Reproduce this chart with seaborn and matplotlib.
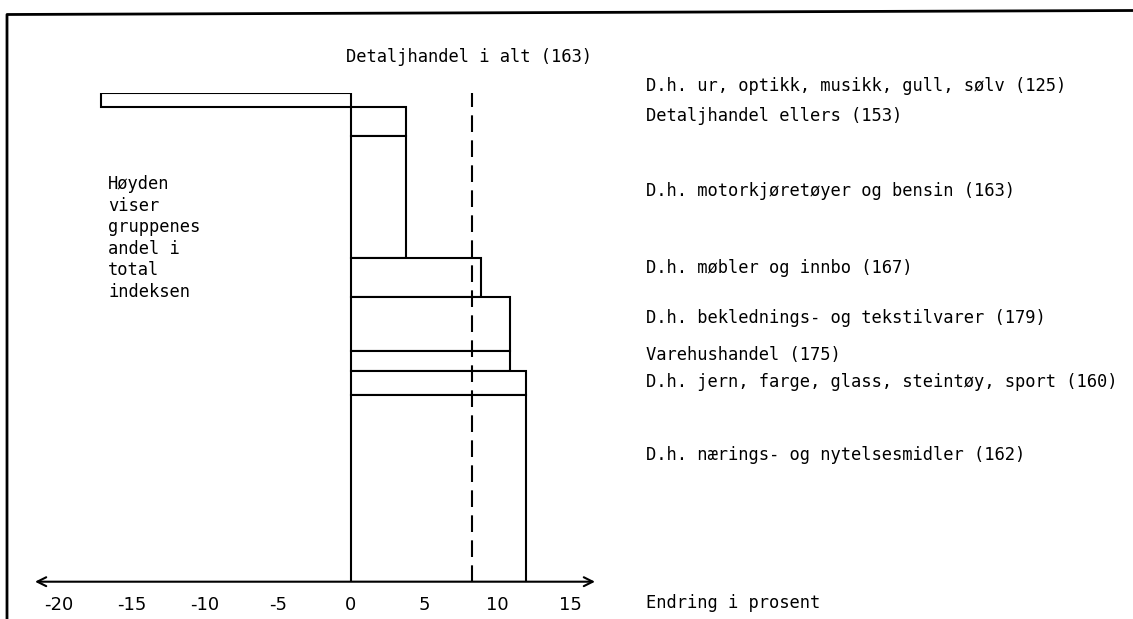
import matplotlib
matplotlib.use("Agg")
import matplotlib.pyplot as plt
import seaborn as sns
import numpy as np
from matplotlib.lines import Line2D

# ---------------- data ----------------
categories = [
    "D.h. ur, optikk, musikk, gull, sølv (125)",
    "Detaljhandel ellers (153)",
    "D.h. motorkjøretøyer og bensin (163)",
    "D.h. møbler og innbo (167)",
    "D.h. beklednings- og tekstilvarer (179)",
    "Varehushandel (175)",
    "D.h. jern, farge, glass, steintøy, sport (160)",
    "D.h. nærings- og nytelsesmidler (162)",
]
change_pct = [-17.1, 3.8, 3.8, 8.9, 10.9, 10.9, 12.0, 12.0]   # bar length
share_pct = [3.0, 5.9, 25.0, 7.9, 11.0, 4.2, 4.9, 38.2]       # bar height
total_change = 8.3
total_label = "Detaljhandel i alt (163)"
xticks = [-20, -15, -10, -5, 0, 5, 10, 15]
note_lines = ["Høyden", "viser", "gruppenes", "andel i", "total", "indeksen"]
axis_label = "Endring i prosent"

# ---------------- style ----------------
sns.set_theme(style="white")
plt.rcParams["font.family"] = ["DejaVu Sans Mono", "DejaVu Sans"]
plt.rcParams["text.color"] = "black"
plt.rcParams["xtick.color"] = "black"
plt.rcParams["xtick.labelcolor"] = "black"

W, H = 1133, 619
fig = plt.figure(figsize=(W / 100, H / 100), dpi=100)

def fx(x):
    return x / W

def fy(y):
    return 1 - y / H

ax_left, ax_right, ax_top, ax_bot = 35, 595, 92.7, 581.7
ax = fig.add_axes([fx(ax_left), fy(ax_bot), (ax_right - ax_left) / W, (ax_bot - ax_top) / H])

xmin, xmax = -21.64, 16.71
total_share = float(np.sum(share_pct))
tops = total_share - np.concatenate([[0], np.cumsum(share_pct)[:-1]])
bottoms = tops - np.array(share_pct)

ax.barh(bottoms, change_pct, height=share_pct, left=0, align="edge",
        color="white", edgecolor="black", linewidth=1.5, zorder=2)

ax.vlines(total_change, 0, total_share, colors="black", linewidth=1.5,
          linestyles=(0, (8, 4)), zorder=3)

ax.set_xlim(xmin, xmax)
ax.set_ylim(0, total_share)
sns.despine(ax=ax, left=True, bottom=True, top=True, right=True)
ax.set_yticks([])
ax.set_xticks(xticks)
ax.set_xticklabels([str(t) for t in xticks], fontfamily="DejaVu Sans", fontsize=13,
                   color="black")
ax.tick_params(axis="x", direction="out", length=7, width=1.5, pad=3.5, color="black")
ax.patch.set_alpha(0)

ax.annotate("", xy=(xmax, 0), xytext=(xmin, 0),
            arrowprops=dict(arrowstyle="<->", lw=1.5, color="black",
                            mutation_scale=16, shrinkA=0, shrinkB=0),
            annotation_clip=False, zorder=4)

fs = 12.3
# title over dashed line
fig.text(fx(346), fy(57), total_label, fontsize=fs, ha="left", va="center", color="black")

# category labels
label_y = [86, 116, 191, 268, 318, 355, 382, 455]
for lab, yy in zip(categories, label_y):
    fig.text(fx(646), fy(yy), lab, fontsize=fs, ha="left", va="center", color="black")

fig.text(fx(646), fy(603), axis_label, fontsize=fs, ha="left", va="center", color="black")

# note
for i, line in enumerate(note_lines):
    fig.text(fx(108), fy(184 + i * 21.6), line, fontsize=fs, ha="left", va="center",
             color="black")

# frame
fig.add_artist(Line2D([fx(7), fx(7), fx(1133)], [fy(619), fy(14.5), fy(10.5)],
                      color="black", linewidth=2.0, transform=fig.transFigure))

fig.savefig("out.png", dpi=100, facecolor="white")
